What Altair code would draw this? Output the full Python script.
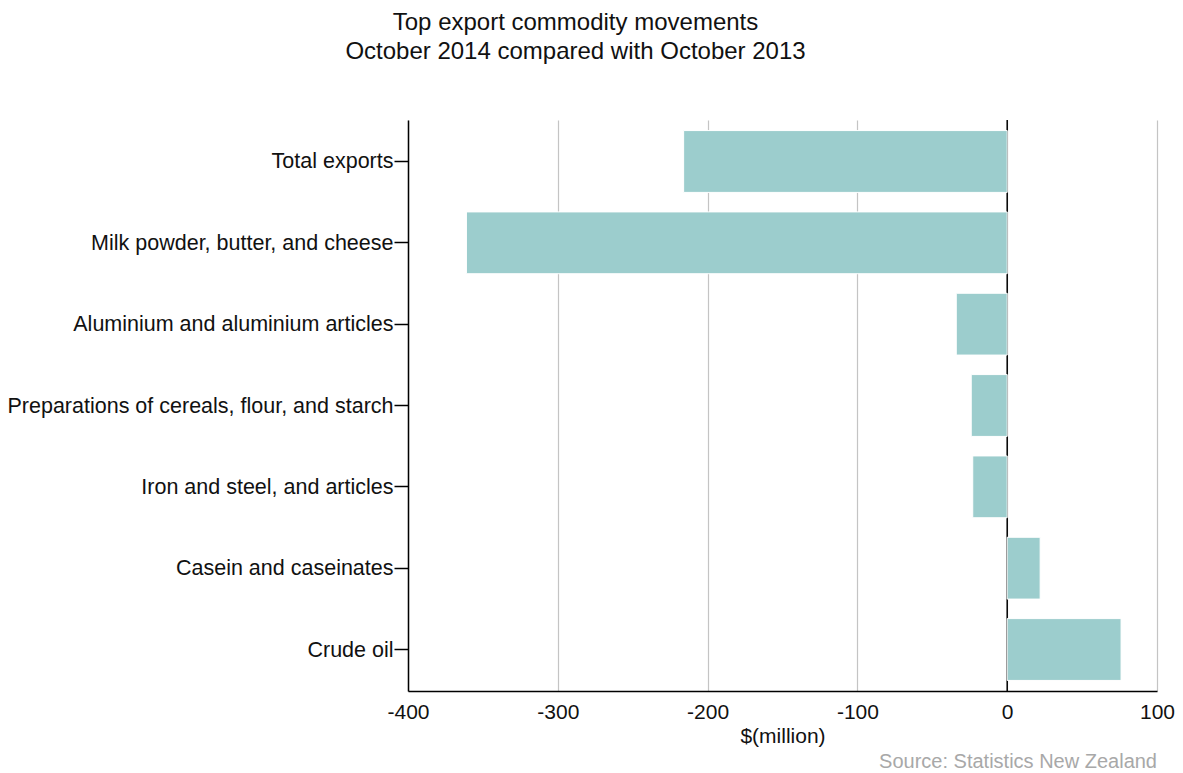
import altair as alt
import pandas as pd

# ---- data ----
categories = [
    "Total exports",
    "Milk powder, butter, and cheese",
    "Aluminium and aluminium articles",
    "Preparations of cereals, flour, and starch",
    "Iron and steel, and articles",
    "Casein and caseinates",
    "Crude oil",
]
values = [-216, -361, -34, -24, -23, 22, 76]
x_ticks = [-400, -300, -200, -100, 0, 100]
title_lines = ["Top export commodity movements", "October 2014 compared with October 2013"]
x_title = "$(million)"
source_text = "Source: Statistics New Zealand"

df = pd.DataFrame({"category": categories, "value": values})
zero_df = pd.DataFrame({"value": [0]})
src_df = pd.DataFrame({"t": [source_text]})

FONT = "Liberation Sans"
W, H = 749, 571

x_scale = alt.Scale(domain=[-400, 100], nice=False, zero=False)
y_scale = alt.Scale(domain=categories, paddingInner=0.24, paddingOuter=0.13)

zero_rule = alt.Chart(zero_df).mark_rule(color="black", strokeWidth=1.5).encode(
    x=alt.X("value:Q", scale=x_scale)
)

bars = alt.Chart(df).mark_bar(color="#9ccdcd", stroke="white", strokeWidth=1).encode(
    x=alt.X(
        "value:Q",
        scale=x_scale,
        axis=alt.Axis(
            values=x_ticks,
            title=x_title,
            grid=True,
            gridColor="#c4c4c4",
            gridWidth=1.2,
            ticks=False,
            domainColor="black",
            domainWidth=1.5,
            labelFontSize=21,
            labelColor="#111111",
            labelPadding=10,
            labelFont=FONT,
            labelExpr="replace(datum.label, '\u2212', '-')",
            titleFont=FONT,
            titleFontSize=21,
            titleFontWeight="normal",
            titleColor="#111111",
            titlePadding=3,
            labelFlush=False,
        ),
    ),
    y=alt.Y(
        "category:N",
        scale=y_scale,
        sort=categories,
        axis=alt.Axis(
            title=None,
            grid=False,
            ticks=True,
            tickColor="black",
            tickWidth=1.5,
            tickSize=14,
            domainColor="black",
            domainWidth=1.5,
            labelFontSize=21.5,
            labelColor="#111111",
            labelFont=FONT,
            labelPadding=1,
            labelOffset=1,
            labelLimit=500,
        ),
    ),
)

source = alt.Chart(src_df).mark_text(
    align="right", baseline="alphabetic", fontSize=20, font=FONT, color="#a8a8a8"
).encode(
    x=alt.value(W),
    y=alt.value(H + 77),
    text="t:N",
)

chart = alt.layer(zero_rule, bars, source).properties(
    width=W,
    height=H,
    autosize=alt.AutoSizeParams(type="none"),
    padding={"left": 400, "top": 112, "right": 18, "bottom": 82},
    title=alt.TitleParams(
        text=title_lines,
        anchor="middle",
        frame="group",
        fontSize=24,
        font=FONT,
        fontWeight="normal",
        color="#111111",
        lineHeight=29,
        dx=-207,
        offset=55,
    ),
).configure_view(stroke=None)

chart.save("out.html", embed_options={"renderer": "svg", "actions": False})
